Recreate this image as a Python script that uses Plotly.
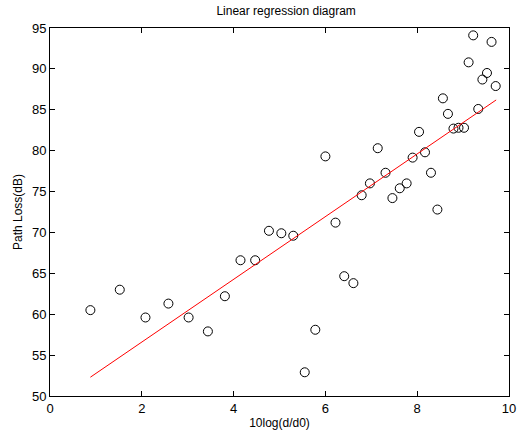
import plotly.graph_objects as go

# Measured points (10log(d/d0), Path Loss dB)
x_vals = [0.88, 1.52, 2.08, 2.58, 3.02, 3.44, 3.81, 4.15, 4.47, 4.77, 5.04, 5.30,
          5.55, 5.78, 6.00, 6.22, 6.41, 6.61, 6.79, 6.97, 7.14, 7.31, 7.46, 7.62,
          7.77, 7.90, 8.04, 8.17, 8.30, 8.44, 8.56, 8.67, 8.79, 8.90, 9.02, 9.12,
          9.22, 9.33, 9.42, 9.52, 9.62, 9.71]
y_vals = [60.5, 63.0, 59.6, 61.3, 59.6, 57.9, 62.2, 66.6, 66.6, 70.2, 69.9, 69.6,
          52.9, 58.1, 79.3, 71.2, 64.65, 63.8, 74.55, 76.0, 80.3, 77.3, 74.2, 75.4,
          76.0, 79.15, 82.3, 79.8, 77.3, 72.8, 86.4, 84.5, 82.7, 82.8, 82.8, 90.8,
          94.1, 85.1, 88.7, 89.5, 93.3, 87.9]

# Regression line endpoints
fit_x = [0.88, 9.72]
fit_y = [52.3, 86.2]

x_ticks = [0, 2, 4, 6, 8, 10]
y_ticks = [50, 55, 60, 65, 70, 75, 80, 85, 90, 95]

fig = go.Figure()
fig.add_trace(go.Scatter(x=x_vals, y=y_vals, mode="markers",
                         marker=dict(symbol="circle-open", size=9,
                                     color="black", line=dict(width=1, color="black")),
                         showlegend=False, cliponaxis=False))
fig.add_trace(go.Scatter(x=fit_x, y=fit_y, mode="lines",
                         line=dict(color="red", width=1), showlegend=False))

axis_common = dict(showgrid=False, zeroline=False, showline=True, linecolor="black",
                   linewidth=1, mirror="ticks", ticks="inside", ticklen=5,
                   tickcolor="black", tickfont=dict(size=13, color="black"))

fig.update_layout(
    width=525, height=437,
    margin=dict(l=50, r=9, t=28, b=41),
    paper_bgcolor="white", plot_bgcolor="white",
    font=dict(family="Liberation Sans, Arial, sans-serif", color="black"),
    title=dict(text="Linear regression diagram", x=0.545, xanchor="center",
               y=0.975, yanchor="middle", font=dict(size=12, color="black")),
    xaxis=dict(range=[0, 10], tickvals=x_ticks,
               title=dict(text="10log(d/d0)", font=dict(size=12), standoff=4),
               **axis_common),
    yaxis=dict(range=[50, 95], tickvals=y_ticks,
               title=dict(text="Path Loss(dB)", font=dict(size=12), standoff=6),
               **axis_common),
)

fig.write_html("out.html")
